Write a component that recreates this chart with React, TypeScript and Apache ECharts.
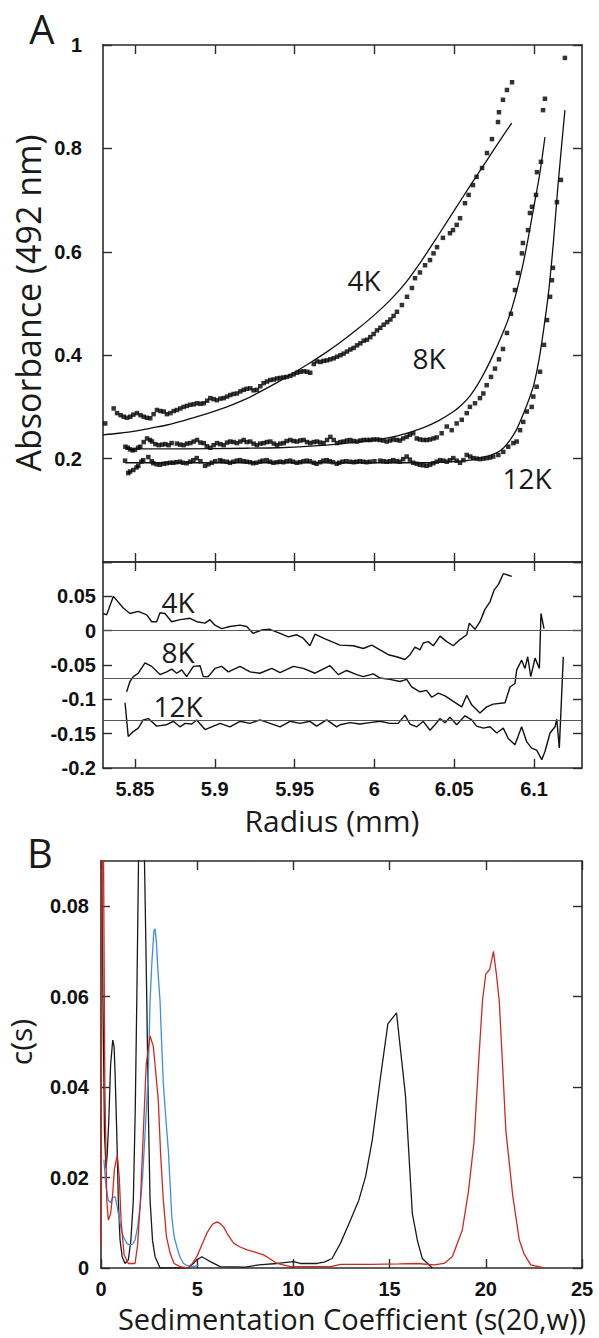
import React, { useEffect, useRef } from 'react';
import * as echarts from 'echarts';

// ---------- Panel A: tick values ----------
const radiusTicks = [5.85, 5.9, 5.95, 6, 6.05, 6.1];
const absTicks = [0, 0.2, 0.4, 0.6, 0.8, 1];
const absLabels = [0.2, 0.4, 0.6, 0.8, 1];
const residTicks = [-0.2, -0.15, -0.1, -0.05, 0, 0.05, 0.1];
const residLabels = [-0.2, -0.15, -0.1, -0.05, 0, 0.05];
// ---------- Panel B: tick values ----------
const sedTicks = [0, 5, 10, 15, 20, 25];
const csTicks = [0, 0.02, 0.04, 0.06, 0.08];

// ---------- Panel A data: [radius mm, absorbance] ----------
const scan4k: number[][] = [
  [5.8314,0.268],[5.8367,0.297],[5.8388,0.288],[5.841,0.284],[5.843,0.281],[5.845,0.279],[5.8471,0.281],[5.849,0.285],
  [5.8513,0.288],[5.8535,0.284],[5.8555,0.281],[5.8575,0.279],[5.8596,0.278],[5.8617,0.286],[5.8638,0.294],[5.866,0.292],
  [5.868,0.291],[5.870,0.286],[5.8722,0.288],[5.8743,0.292],[5.8763,0.294],[5.8784,0.297],[5.8805,0.30],[5.8826,0.302],
  [5.8847,0.304],[5.8868,0.305],[5.8889,0.307],[5.891,0.306],[5.8931,0.307],[5.8952,0.312],[5.8972,0.317],[5.8993,0.315],
  [5.9014,0.313],[5.9035,0.316],[5.9056,0.317],[5.9077,0.32],[5.9097,0.323],[5.9118,0.325],[5.9139,0.326],[5.916,0.33],
  [5.9181,0.333],[5.92,0.335],[5.9222,0.336],[5.9243,0.332],[5.9264,0.333],[5.9285,0.34],[5.9306,0.346],[5.9327,0.349],
  [5.9348,0.352],[5.937,0.353],[5.939,0.355],[5.941,0.356],[5.9432,0.357],[5.945,0.358],[5.9473,0.36],[5.9494,0.363],
  [5.9515,0.366],[5.9536,0.368],[5.9557,0.369],[5.9578,0.368],[5.9598,0.366],[5.962,0.383],[5.964,0.388],[5.9662,0.387],
  [5.9682,0.389],[5.9703,0.39],[5.9724,0.392],[5.9745,0.394],[5.9766,0.397],[5.9787,0.4],[5.9807,0.403],[5.9828,0.407],
  [5.9849,0.411],[5.987,0.414],[5.9891,0.419],[5.9912,0.423],[5.9933,0.428],[5.9953,0.43],[5.9974,0.435],[5.9995,0.441],
  [6.0016,0.448],[6.0037,0.453],[6.0058,0.459],[6.008,0.464],[6.01,0.469],[6.012,0.476],[6.0141,0.484],[6.0172,0.497],
  [6.0204,0.513],[6.0235,0.53],[6.0254,0.549],[6.0285,0.56],[6.0317,0.574],[6.0348,0.584],[6.037,0.597],[6.0392,0.609],
  [6.0429,0.627],[6.0473,0.636],[6.0492,0.642],[6.0515,0.652],[6.0536,0.665],[6.0567,0.694],[6.059,0.71],[6.0617,0.729],
  [6.064,0.745],[6.0674,0.762],[6.0705,0.791],[6.0736,0.818],[6.0774,0.851],[6.078,0.870],[6.0805,0.894],[6.083,0.913],
  [6.0862,0.928]
];
const scan8k: number[][] = [
  [5.8440,0.223],[5.8455,0.221],[5.8469,0.218],[5.8485,0.216],[5.850,0.217],[5.852,0.221],[5.8534,0.223],[5.8555,0.232],
  [5.8576,0.239],[5.8595,0.236],[5.8607,0.233],[5.8628,0.228],[5.8649,0.226],[5.867,0.227],[5.869,0.228],[5.8711,0.226],
  [5.873,0.23],[5.8763,0.229],[5.8784,0.227],[5.8805,0.226],[5.8826,0.229],[5.8847,0.23],[5.8868,0.233],[5.8889,0.236],
  [5.891,0.231],[5.8931,0.23],[5.895,0.224],[5.8972,0.221],[5.8993,0.226],[5.9014,0.23],[5.9035,0.228],[5.9056,0.226],
  [5.9077,0.231],[5.9097,0.233],[5.9118,0.232],[5.9139,0.23],[5.916,0.233],[5.9181,0.236],[5.92,0.232],[5.9222,0.233],
  [5.9243,0.229],[5.9264,0.226],[5.9285,0.229],[5.9306,0.23],[5.9327,0.232],[5.9348,0.233],[5.937,0.229],[5.939,0.226],
  [5.941,0.229],[5.9432,0.23],[5.945,0.234],[5.9473,0.236],[5.9494,0.234],[5.9515,0.233],[5.9536,0.235],[5.9557,0.236],
  [5.9578,0.232],[5.9598,0.23],[5.962,0.232],[5.964,0.233],[5.966,0.231],[5.9682,0.23],[5.9703,0.236],[5.9724,0.242],
  [5.9745,0.236],[5.9766,0.23],[5.9787,0.232],[5.9807,0.233],[5.9828,0.235],[5.9849,0.236],[5.987,0.234],[5.9891,0.233],
  [5.9912,0.235],[5.9933,0.236],[5.9953,0.236],[5.9974,0.236],[5.9995,0.237],[6.0016,0.237],[6.0035,0.236],[6.0056,0.235],
  [6.0077,0.233],[6.0098,0.235],[6.0118,0.237],[6.014,0.236],[6.016,0.235],[6.018,0.239],[6.0202,0.242],[6.0222,0.246],
  [6.0243,0.249],[6.0265,0.239],[6.0285,0.237],[6.0306,0.236],[6.0327,0.236],[6.0348,0.237],[6.037,0.239],[6.039,0.241],
  [6.0421,0.249],[6.0453,0.262],[6.0484,0.255],[6.0515,0.268],[6.0547,0.275],[6.0578,0.288],[6.0598,0.30],[6.063,0.307],
  [6.0661,0.317],[6.0682,0.326],[6.0703,0.342],[6.073,0.358],[6.0755,0.374],[6.078,0.392],[6.0805,0.412],[6.083,0.443],
  [6.0855,0.48],[6.088,0.526],[6.0899,0.559],[6.0924,0.597],[6.093,0.617],[6.0962,0.642],[6.0974,0.675],[6.0987,0.687],
  [6.1012,0.71],[6.1018,0.754],[6.1043,0.774],[6.1056,0.874],[6.1068,0.896]
];
const scan12k: number[][] = [
  [5.8438,0.196],[5.8458,0.172],[5.8469,0.175],[5.849,0.178],[5.851,0.183],[5.8521,0.186],[5.854,0.194],[5.8552,0.197],
  [5.8584,0.203],[5.8605,0.195],[5.8615,0.191],[5.8636,0.189],[5.8657,0.188],[5.868,0.19],[5.8699,0.191],[5.872,0.192],
  [5.874,0.192],[5.876,0.193],[5.8782,0.194],[5.880,0.192],[5.8824,0.191],[5.8845,0.194],[5.8866,0.197],[5.8887,0.201],
  [5.891,0.195],[5.8939,0.186],[5.896,0.189],[5.8981,0.192],[5.9003,0.195],[5.9033,0.197],[5.905,0.195],[5.9075,0.194],
  [5.9095,0.192],[5.9117,0.194],[5.9138,0.196],[5.9158,0.197],[5.918,0.195],[5.92,0.194],[5.9221,0.193],[5.924,0.191],
  [5.926,0.192],[5.9283,0.194],[5.930,0.196],[5.9325,0.197],[5.9346,0.194],[5.9367,0.192],[5.939,0.193],[5.9409,0.194],
  [5.943,0.193],[5.945,0.195],[5.9471,0.196],[5.949,0.194],[5.9513,0.192],[5.9534,0.193],[5.9555,0.195],[5.9576,0.196],
  [5.9596,0.195],[5.962,0.192],[5.9638,0.19],[5.966,0.193],[5.968,0.196],[5.9701,0.197],[5.972,0.195],[5.974,0.193],
  [5.9764,0.19],[5.978,0.192],[5.98,0.194],[5.9822,0.195],[5.9847,0.194],[5.987,0.193],[5.9888,0.194],[5.9909,0.195],
  [5.993,0.194],[5.9951,0.193],[5.9972,0.194],[6.0,0.195],[6.0035,0.196],[6.0056,0.195],[6.0077,0.194],[6.0098,0.195],
  [6.0118,0.197],[6.014,0.195],[6.016,0.194],[6.018,0.199],[6.0202,0.204],[6.0222,0.198],[6.0243,0.192],[6.0265,0.19],
  [6.0285,0.188],[6.0306,0.187],[6.0327,0.186],[6.0348,0.188],[6.0369,0.191],[6.039,0.194],[6.0411,0.197],[6.0432,0.196],
  [6.0453,0.194],[6.0473,0.197],[6.0494,0.201],[6.0515,0.196],[6.0536,0.192],[6.0557,0.197],[6.0578,0.207],[6.06,0.204],
  [6.0619,0.201],[6.064,0.2],[6.0661,0.199],[6.0682,0.2],[6.0703,0.201],[6.0724,0.202],[6.0744,0.204],[6.0776,0.207],
  [6.0807,0.213],[6.0838,0.223],[6.087,0.23],[6.0891,0.233],[6.0912,0.255],[6.0932,0.271],[6.0954,0.291],[6.0985,0.30],
  [6.0995,0.32],[6.1016,0.339],[6.1037,0.368],[6.1062,0.42],[6.1081,0.468],[6.11,0.513],[6.1112,0.545],[6.1118,0.569],
  [6.1143,0.696],[6.1168,0.739],[6.1193,0.975]
];

const fit4k: number[][] = [
  [5.83,0.246],[5.84,0.249],[5.85,0.253],[5.86,0.259],[5.87,0.265],[5.88,0.273],[5.89,0.282],[5.90,0.292],[5.91,0.303],
  [5.92,0.316],[5.93,0.332],[5.94,0.349],[5.95,0.367],[5.96,0.386],[5.97,0.406],[5.98,0.428],[5.99,0.452],[6.0,0.478],
  [6.01,0.507],[6.02,0.542],[6.03,0.585],[6.04,0.632],[6.05,0.68],[6.06,0.728],[6.07,0.775],[6.08,0.822],[6.086,0.849]
];
const fit8k: number[][] = [
  [5.844,0.219],[5.88,0.219],[5.92,0.22],[5.94,0.221],[5.96,0.224],[5.98,0.229],[6.0,0.236],[6.01,0.241],[6.02,0.249],
  [6.03,0.259],[6.04,0.273],[6.05,0.292],[6.055,0.305],[6.06,0.322],[6.065,0.345],[6.07,0.373],[6.075,0.405],
  [6.08,0.44],[6.085,0.48],[6.09,0.535],[6.095,0.605],[6.10,0.69],[6.1035,0.75],[6.1068,0.822]
];
const fit12k: number[][] = [
  [5.844,0.192],[5.90,0.192],[5.96,0.192],[6.03,0.192],[6.05,0.194],[6.06,0.197],[6.066,0.201],[6.072,0.206],
  [6.077,0.212],[6.081,0.221],[6.085,0.236],[6.089,0.256],[6.092,0.277],[6.095,0.30],[6.098,0.325],[6.1,0.345],
  [6.103,0.39],[6.106,0.45],[6.109,0.52],[6.112,0.615],[6.115,0.73],[6.1193,0.874]
];

// residuals (offset traces): [radius, residual + offset]
const resid4k: number[][] = [
  [5.8302,0.025],[5.8323,0.023],[5.8365,0.05],[5.8427,0.033],[5.8469,0.025],[5.8521,0.028],[5.8574,0.023],[5.8605,0.013],
  [5.8636,0.013],[5.8657,0.026],[5.8688,0.025],[5.873,0.013],[5.8782,0.016],[5.8845,0.018],[5.8887,0.013],[5.8939,0.011],
  [5.897,0.016],[5.9001,0.008],[5.9043,0.003],[5.9095,0.006],[5.9158,0.008],[5.92,0.006],[5.9241,-0.004],[5.9294,0.001],
  [5.9346,0.002],[5.9409,-0.004],[5.9461,-0.009],[5.9513,-0.006],[5.9554,-0.011],[5.9596,-0.022],[5.9628,-0.005],
  [5.968,-0.011],[5.9732,-0.016],[5.9784,-0.021],[5.9868,-0.022],[5.993,-0.026],[5.9983,-0.021],[6.0035,-0.028],
  [6.0087,-0.035],[6.0139,-0.038],[6.0191,-0.042],[6.0223,-0.035],[6.0254,-0.024],[6.0285,-0.028],[6.0306,-0.018],
  [6.0337,-0.016],[6.0369,-0.022],[6.0411,-0.008],[6.0453,-0.016],[6.0494,-0.022],[6.0536,-0.013],[6.0578,-0.006],
  [6.0594,0.011],[6.063,0.002],[6.0661,0.013],[6.0692,0.031],[6.0724,0.042],[6.0749,0.059],[6.0776,0.067],
  [6.0807,0.083],[6.086,0.079]
];
const resid8k: number[][] = [
  [5.8448,-0.089],[5.8469,-0.074],[5.849,-0.067],[5.8521,-0.062],[5.8563,-0.047],[5.8605,-0.052],[5.8657,-0.064],
  [5.8699,-0.06],[5.873,-0.056],[5.8762,-0.062],[5.8793,-0.057],[5.8824,-0.067],[5.8866,-0.052],[5.8908,-0.051],
  [5.8928,-0.067],[5.8959,-0.067],[5.9001,-0.055],[5.9043,-0.052],[5.9085,-0.06],[5.9158,-0.052],[5.9221,-0.06],
  [5.9283,-0.062],[5.9357,-0.055],[5.9409,-0.061],[5.9492,-0.052],[5.9554,-0.055],[5.9628,-0.062],[5.9722,-0.051],
  [5.9774,-0.064],[5.9826,-0.058],[5.9889,-0.064],[5.993,-0.067],[5.9993,-0.063],[6.0035,-0.069],[6.0097,-0.071],
  [6.016,-0.074],[6.0202,-0.071],[6.0233,-0.082],[6.0285,-0.089],[6.0327,-0.087],[6.0359,-0.097],[6.04,-0.091],
  [6.0442,-0.095],[6.0494,-0.103],[6.0547,-0.111],[6.0578,-0.094],[6.0609,-0.108],[6.0661,-0.12],[6.0703,-0.111],
  [6.0744,-0.107],[6.0818,-0.105],[6.0849,-0.082],[6.088,-0.077],[6.0891,-0.057],[6.0922,-0.043],[6.0943,-0.055],
  [6.096,-0.038],[6.0979,-0.067],[6.1006,-0.04],[6.1033,-0.055],[6.1043,0.025],[6.1062,0.003]
];
const resid12k: number[][] = [
  [5.8438,-0.105],[5.8458,-0.154],[5.849,-0.147],[5.8521,-0.142],[5.8552,-0.13],[5.8584,-0.128],[5.8636,-0.139],
  [5.8699,-0.137],[5.874,-0.132],[5.8782,-0.14],[5.8814,-0.135],[5.8856,-0.136],[5.8887,-0.13],[5.8939,-0.144],
  [5.8981,-0.14],[5.9033,-0.135],[5.9095,-0.14],[5.9158,-0.132],[5.9221,-0.135],[5.9283,-0.13],[5.9346,-0.135],
  [5.9409,-0.14],[5.9471,-0.132],[5.9534,-0.135],[5.9596,-0.132],[5.9638,-0.139],[5.9701,-0.13],[5.9764,-0.14],
  [5.9784,-0.137],[5.9847,-0.134],[5.9909,-0.136],[5.9972,-0.134],[6.0035,-0.132],[6.0097,-0.135],[6.0149,-0.135],
  [6.0191,-0.123],[6.0223,-0.136],[6.0265,-0.14],[6.0306,-0.132],[6.0348,-0.145],[6.0379,-0.137],[6.0411,-0.128],
  [6.0442,-0.134],[6.0473,-0.126],[6.0515,-0.137],[6.0567,-0.124],[6.0609,-0.13],[6.064,-0.139],[6.0682,-0.142],
  [6.0724,-0.14],[6.0766,-0.149],[6.0807,-0.142],[6.0838,-0.157],[6.088,-0.166],[6.0922,-0.14],[6.0954,-0.162],
  [6.0985,-0.171],[6.1016,-0.174],[6.1048,-0.188],[6.1068,-0.176],[6.11,-0.149],[6.1131,-0.14],[6.1142,-0.129],
  [6.1158,-0.171],[6.1183,-0.038]
];
const residBaselines = [0, -0.068, -0.134];

// ---------- Panel B data: [s(20,w), c(s)] ----------
const csBlack: number[][] = [
  [0.02,0.1],[0.1,0.06],[0.18,0.03],[0.26,0.022],[0.32,0.025],[0.4,0.032],[0.5,0.045],[0.61,0.0504],[0.68,0.049],
  [0.73,0.0434],[0.82,0.0298],[0.9,0.015],[0.99,0.0062],[1.1,0.0025],[1.25,0.001],[1.42,0.0018],[1.55,0.006],
  [1.68,0.015],[1.78,0.035],[1.86,0.059],[1.95,0.09],[2.05,0.11],[2.2,0.105],[2.3,0.08],[2.38,0.059],[2.46,0.035],
  [2.55,0.015],[2.68,0.006],[2.81,0.0025],[3.07,0],[4.53,0],[4.8,0.001],[4.98,0.0018],[5.24,0.0025],[5.45,0.002],
  [5.68,0.0014],[6.2,0.0003],[7.5,0.0002],[8.2,0.0007],[9.15,0.001],[10.0,0.0014],[10.36,0.001],[11.23,0.001],
  [11.6,0.0013],[12.01,0.0021],[12.45,0.0055],[12.97,0.0106],[13.4,0.015],[13.75,0.0202],[14.1,0.0283],[14.53,0.0423],
  [14.91,0.054],[15.36,0.0564],[15.83,0.0379],[16.18,0.0121],[16.45,0.006],[16.7,0.0021],[17.22,0]
];
const csBlue: number[][] = [
  [0.15,0.024],[0.26,0.018],[0.38,0.015],[0.5,0.0145],[0.6,0.0155],[0.73,0.0158],[0.82,0.014],
  [0.9,0.0121],[1.03,0.009],[1.16,0.0069],[1.35,0.0054],[1.51,0.0051],[1.65,0.0053],[1.77,0.0062],[1.9,0.009],
  [2.03,0.0135],[2.16,0.02],[2.29,0.0298],[2.38,0.037],[2.47,0.0445],[2.55,0.059],[2.65,0.068],[2.75,0.0745],
  [2.81,0.075],[2.88,0.072],[2.97,0.065],[3.07,0.059],[3.15,0.05],[3.24,0.0408],[3.37,0.033],[3.5,0.026],[3.6,0.018],
  [3.68,0.0113],[3.8,0.007],[3.94,0.0047],[4.1,0.0025],[4.29,0.001],[4.5,0.0005],[4.72,0.0003],[4.9,0.0004],[5.07,0.0007]
];
const csRed: number[][] = [
  [0,0.005],[0.06,0.1],[0.12,0.1],[0.2,0.04],[0.3,0.015],[0.38,0.0106],[0.5,0.012],[0.6,0.016],[0.7,0.022],
  [0.85,0.025],[0.95,0.02],[1.05,0.01],[1.2,0.003],[1.42,0.001],[1.77,0.001],[1.9,0.005],[2.05,0.015],[2.2,0.03],
  [2.35,0.045],[2.55,0.0513],[2.72,0.049],[2.85,0.043],[2.98,0.037],[3.1,0.025],[3.24,0.015],[3.4,0.007],[3.59,0.0033],
  [3.8,0.001],[4.11,0.0003],[4.5,0],[4.75,0.001],[4.98,0.0025],[5.25,0.0052],[5.5,0.0077],[5.8,0.0097],[6.03,0.0102],
  [6.2,0.0098],[6.37,0.0091],[6.6,0.0073],[6.89,0.0055],[7.2,0.0047],[7.59,0.004],[8.0,0.0035],[8.45,0.0029],
  [8.8,0.002],[9.15,0.001],[9.84,0.0003],[11.0,0.0003],[11.93,0.0003],[12.45,0.0008],[14,0.0008],[15.5,0.0009],
  [16.44,0.001],[17.3,0.0007],[17.83,0.001],[18.26,0.0025],[18.78,0.0084],[19.1,0.017],[19.39,0.028],[19.62,0.045],
  [19.83,0.0592],[20.0,0.065],[20.2,0.066],[20.4,0.07],[20.55,0.065],[20.7,0.059],[20.87,0.045],[21.04,0.0305],
  [21.4,0.016],[21.74,0.0062],[22.0,0.003],[22.34,0.0007],[23.04,0]
];

const AX = '#2b2b2b';
const labelFont = { fontFamily: 'Liberation Sans', fontWeight: 'bold' as const, fontSize: 20, color: '#111' };
const titleFont = 'Open Sans';

function axisBase(vals: number[], showLabels: boolean, labelVals: number[], margin: number) {
  return {
    axisLine: { show: true, onZero: false, lineStyle: { color: AX, width: 1.6 } },
    axisTick: { show: true, inside: true, length: 9, customValues: vals, lineStyle: { color: AX, width: 1.4 } },
    axisLabel: showLabels
      ? { show: true, customValues: labelVals, margin, ...labelFont }
      : { show: false },
    splitLine: { show: false },
  };
}

function txt(text: string, x: number, y: number, size: number, rotation = 0) {
  return {
    type: 'text',
    x, y, rotation,
    style: {
      text, x: 0, y: 0, fontSize: size, lineHeight: size, fontFamily: titleFont, fill: '#1a1a1a',
      align: 'center', verticalAlign: 'middle', textAlign: 'center', textVerticalAlign: 'middle',
    },
  };
}

export default function App() {
  const ref = useRef<HTMLDivElement>(null);
  useEffect(() => {
    const chart = echarts.init(ref.current!, null, { renderer: 'svg' });
    const rx = { type: 'value', min: 5.83, max: 6.13 };
    const option: any = {
      animation: false,
      backgroundColor: '#fff',
      grid: [
        { left: 103, top: 45, width: 479, height: 517 },
        { left: 103, top: 562, width: 479, height: 206 },
        { left: 101, top: 861, width: 481, height: 407 },
      ],
      xAxis: [
        { ...rx, gridIndex: 0, position: 'bottom', ...axisBase(radiusTicks, false, [], 0) },
        { ...rx, gridIndex: 0, position: 'top', ...axisBase(radiusTicks, false, [], 0) },
        { ...rx, gridIndex: 1, position: 'bottom', ...axisBase(radiusTicks, true, radiusTicks, 11) },
        { ...rx, gridIndex: 1, position: 'top', ...axisBase(radiusTicks, false, [], 0) },
        { type: 'value', min: 0, max: 25, gridIndex: 2, position: 'bottom', ...axisBase(sedTicks, true, sedTicks, 11) },
        { type: 'value', min: 0, max: 25, gridIndex: 2, position: 'top', ...axisBase(sedTicks, false, [], 0) },
      ],
      yAxis: [
        { type: 'value', min: 0, max: 1, gridIndex: 0, position: 'left', ...axisBase(absTicks, true, absLabels, 21) },
        { type: 'value', min: 0, max: 1, gridIndex: 0, position: 'right', ...axisBase(absTicks, false, [], 0) },
        { type: 'value', min: -0.2, max: 0.1, gridIndex: 1, position: 'left', ...axisBase(residTicks, true, residLabels, 7) },
        { type: 'value', min: -0.2, max: 0.1, gridIndex: 1, position: 'right', ...axisBase(residTicks, false, [], 0) },
        { type: 'value', min: 0, max: 0.09, gridIndex: 2, position: 'left', ...axisBase(csTicks, true, csTicks, 12) },
        { type: 'value', min: 0, max: 0.09, gridIndex: 2, position: 'right', ...axisBase(csTicks, false, [], 0) },
      ],
      series: [
        ...[scan4k, scan8k, scan12k].map((d) => ({
          type: 'scatter', xAxisIndex: 0, yAxisIndex: 0, data: d,
          symbol: 'rect', symbolSize: 4.5, itemStyle: { color: '#000' }, silent: true,
        })),
        ...[fit4k, fit8k, fit12k].map((d) => ({
          type: 'line', xAxisIndex: 0, yAxisIndex: 0, data: d, showSymbol: false, smooth: 0.3,
          lineStyle: { color: '#111', width: 1.3 }, silent: true,
        })),
        ...[resid4k, resid8k, resid12k].map((d, i) => ({
          type: 'line', xAxisIndex: 2, yAxisIndex: 2, data: d, showSymbol: false,
          lineStyle: { color: '#111', width: 1.4 }, silent: true,
          markLine: {
            silent: true, symbol: ['none', 'none'], label: { show: false },
            lineStyle: { color: '#555', width: 1.1, type: 'solid' },
            data: [{ yAxis: residBaselines[i] }],
          },
        })),
        { type: 'line', xAxisIndex: 4, yAxisIndex: 4, data: csBlack, showSymbol: false, lineStyle: { color: '#1a1a1a', width: 1.3 }, silent: true },
        { type: 'line', xAxisIndex: 4, yAxisIndex: 4, data: csBlue, showSymbol: false, lineStyle: { color: '#3a8fe0', width: 1.3 }, silent: true },
        { type: 'line', xAxisIndex: 4, yAxisIndex: 4, data: csRed, showSymbol: false, lineStyle: { color: '#cc2a1e', width: 1.3 }, silent: true },
      ],
      graphic: [
        txt('A', 42, 28, 40),
        txt('B', 40, 852, 40),
        txt('Absorbance (492 nm)', 28, 303, 34, Math.PI / 2),
        txt('Radius (mm)', 332, 820, 30),
        txt('c(s)', 20, 1042, 30, Math.PI / 2),
        txt('Sedimentation Coefficient (s(20,w))', 352, 1318, 29),
        txt('4K', 364, 280, 28),
        txt('8K', 429, 358, 28),
        txt('12K', 527, 478, 28),
        txt('4K', 178, 602, 28),
        txt('8K', 178, 652, 28),
        txt('12K', 178, 706, 28),
      ],
    };
    chart.setOption(option);
    return () => chart.dispose();
  }, []);
  return (
    <div
      ref={ref}
      style={{ position: 'absolute', left: 0, top: 0, width: 599, height: 1338, background: '#fff' }}
    />
  );
}
